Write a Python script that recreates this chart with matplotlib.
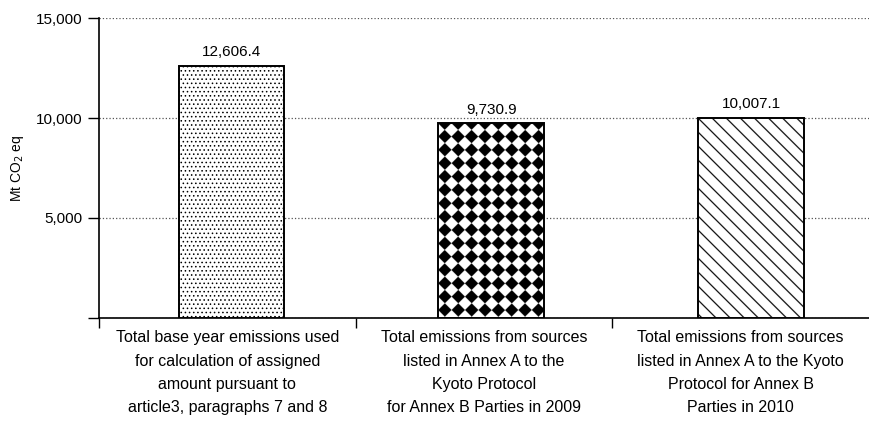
import numpy as np
import matplotlib.pyplot as plt

plt.rcParams['font.family'] = ['Liberation Sans', 'DejaVu Sans']

categories = [
    "Total base year emissions used\nfor calculation of assigned\namount pursuant to\narticle3, paragraphs 7 and 8",
    "Total emissions from sources\nlisted in Annex A to the\nKyoto Protocol\nfor Annex B Parties in 2009",
    "Total emissions from sources\nlisted in Annex A to the Kyoto\nProtocol for Annex B\nParties in 2010",
]
values = [12606.4, 9730.9, 10007.1]
value_labels = ["12,606.4", "9,730.9", "10,007.1"]
y_ticks = [0, 5000, 10000, 15000]
y_tick_labels = ["", "5,000", "10,000", "15,000"]


def fill_texture(ax, bar, kind, ss=3):
    # pixel texture clipped to the bar, for patterns matplotlib hatches can't do
    (x0, y0), (x1, y1) = ax.transData.transform(
        [(bar.get_x(), 0), (bar.get_x() + bar.get_width(), bar.get_height())])
    w, h = int(round((x1 - x0) * ss)), int(round((y1 - y0) * ss))
    jj, ii = np.meshgrid(np.arange(w) / ss, np.arange(h) / ss)
    if kind == "diamonds":
        cell = 13.3
        tex = (np.floor((jj + ii) / cell) + np.floor((jj - ii) / cell)) % 2
    else:
        period = 14.0
        d = np.mod(jj - ii, period)
        dist = np.minimum(d, period - d) / np.sqrt(2)
        tex = (dist > 0.7).astype(float)
    ax.imshow(tex, cmap='gray', vmin=0, vmax=1, interpolation='antialiased', aspect='auto',
              extent=(bar.get_x(), bar.get_x() + bar.get_width(), 0, bar.get_height()),
              origin='upper', zorder=3, clip_path=bar, clip_on=True)


fig = plt.figure(figsize=(8.69, 4.21), dpi=100)
ax = fig.add_axes([0.114, 0.245, 0.886, 0.712])
ax.set_xlim(-0.5, 2.5)
ax.set_ylim(0, 15000)

x = list(range(len(values)))
# bars sit a touch right of the label centres, as in the original
bar_x = [0.015 + i * 1.0125 for i in x]
bars = ax.bar(bar_x, values, width=0.41, color=['white', 'none', 'none'],
              edgecolor='black', linewidth=1.4, zorder=4)
bars[0].set_hatch('....')
bars[0].set_hatch_linewidth(0.6)
fill_texture(ax, bars[1], "diamonds")
fill_texture(ax, bars[2], "lines")
ax.set_xlim(-0.5, 2.5)
ax.set_ylim(0, 15000)

for b, lab in zip(bars, value_labels):
    ax.text(b.get_x() + b.get_width() / 2, b.get_height() + 330, lab,
            ha='center', va='bottom', fontsize=11)

ax.set_yticks(y_ticks)
ax.set_yticklabels(y_tick_labels, fontsize=11)
ax.set_ylabel("Mt CO$_2$ eq", fontsize=10, labelpad=7)

ax.set_xticks(x)
ax.set_xticklabels(categories, fontsize=11.5, linespacing=1.68)
ax.tick_params(axis='x', which='major', length=0, pad=9)
ax.set_xticks([-0.5, 0.5, 1.5], minor=True)
ax.tick_params(axis='x', which='minor', length=7, width=1, direction='out')
ax.tick_params(axis='y', length=8, width=1, direction='out', pad=4)

ax.grid(axis='y', linestyle=':', color='#555555', linewidth=0.9, zorder=0)
ax.spines['top'].set_visible(False)
ax.spines['right'].set_visible(False)
ax.spines['left'].set_linewidth(1.2)
ax.spines['bottom'].set_linewidth(1.2)

fig.savefig("out.png", dpi=100)
